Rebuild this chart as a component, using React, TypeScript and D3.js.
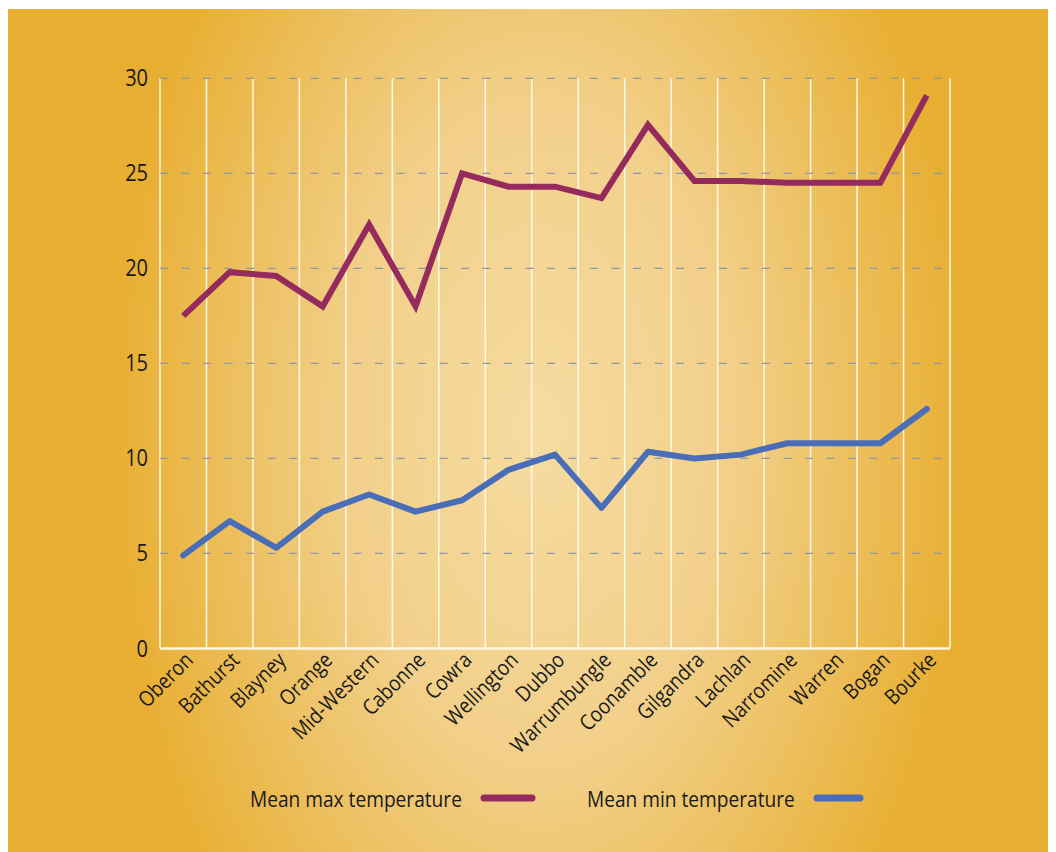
import React from "react";
import * as d3 from "d3";

const categories = ["Oberon","Bathurst","Blayney","Orange","Mid-Western","Cabonne","Cowra","Wellington","Dubbo","Warrumbungle","Coonamble","Gilgandra","Lachlan","Narromine","Warren","Bogan","Bourke"];
const meanMax = [17.5,19.8,19.6,18.0,22.3,18.0,25.0,24.3,24.3,23.7,27.55,24.6,24.6,24.5,24.5,24.5,29.1];
const meanMin = [4.9,6.7,5.3,7.2,8.1,7.2,7.8,9.4,10.2,7.4,10.35,10.0,10.2,10.8,10.8,10.8,12.6];
const yTicks = [0,5,10,15,20,25,30];
const seriesNames = ["Mean max temperature","Mean min temperature"];
const seriesColors = ["#952a5c","#4a6db8"];

const W = 1046, H = 850;
const ox = 8, oy = 9;
const left = 160 - ox, right = 950 - ox, top = 78.3 - oy, bottom = 648.5 - oy;
const FONT = "'Open Sans', sans-serif";
const SX = 0.87;

export default function App() {
  const x = d3.scaleBand<string>().domain(categories).range([left, right]).padding(0);
  const y = d3.scaleLinear().domain([0, 30]).range([bottom, top]);
  const cx = (c: string) => (x(c) as number) + x.bandwidth() / 2;
  const line = d3.line<number>().x((_, i) => cx(categories[i])).y((v) => y(v));
  const bounds = [...categories.map((c) => x(c) as number), right];

  return (
    <svg width={W} height={H} style={{ display: "block", marginTop: 1 }}>
      <defs>
        <radialGradient id="bg" gradientUnits="userSpaceOnUse" cx={540 - ox} cy={430 - oy} r={430}
          gradientTransform={`translate(${540 - ox} ${430 - oy}) scale(1 1.7) translate(${-(540 - ox)} ${-(430 - oy)})`}>
          <stop offset="0" stopColor="#f6dba0" />
          <stop offset="0.45" stopColor="#f2d08a" />
          <stop offset="0.8" stopColor="#ebbb52" />
          <stop offset="1" stopColor="#e8ae31" />
        </radialGradient>
      </defs>
      <rect x={0} y={0} width={W} height={H} fill="url(#bg)" />
      {bounds.map((b, i) => (
        <line key={"v" + i} x1={b} x2={b} y1={top} y2={bottom} stroke="#fff8e8" strokeWidth={1.5} />
      ))}
      <line x1={left} x2={right} y1={bottom} y2={bottom} stroke="#fff6e0" strokeWidth={2.5} />
      {yTicks.filter((t) => t > 0).map((t) => (
        <line key={"h" + t} x1={left} x2={right} y1={y(t)} y2={y(t)} stroke="#8e98a6" strokeWidth={1.2} strokeDasharray="8,13.5" />
      ))}
      {yTicks.map((t) => (
        <text key={"yt" + t} transform={`translate(${left - 12},${y(t) + 8}) scale(${SX},1)`} textAnchor="end" fontFamily={FONT} fontSize={23} fill="#1a1a1a">{t}</text>
      ))}
      {categories.map((c) => (
        <text key={"xl" + c} transform={`translate(${cx(c) + 11},${bottom + 13}) rotate(-45) scale(${SX},1)`} textAnchor="end" fontFamily={FONT} fontSize={21.5} fill="#1a1a1a">{c}</text>
      ))}
      <path d={line(meanMax) || ""} fill="none" stroke={seriesColors[0]} strokeWidth={6} strokeLinejoin="miter" strokeLinecap="butt" />
      <path d={line(meanMin) || ""} fill="none" stroke={seriesColors[1]} strokeWidth={6} strokeLinejoin="round" strokeLinecap="round" />
      <text transform={`translate(${250 - ox},${807 - oy}) scale(${SX},1)`} fontFamily={FONT} fontSize={22} fill="#1a1a1a">{seriesNames[0]}</text>
      <line x1={484 - ox} x2={532 - ox} y1={798 - oy} y2={798 - oy} stroke={seriesColors[0]} strokeWidth={7} strokeLinecap="round" />
      <text transform={`translate(${587 - ox},${807 - oy}) scale(${SX},1)`} fontFamily={FONT} fontSize={22} fill="#1a1a1a">{seriesNames[1]}</text>
      <line x1={817 - ox} x2={860 - ox} y1={798 - oy} y2={798 - oy} stroke={seriesColors[1]} strokeWidth={7} strokeLinecap="round" />
    </svg>
  );
}
